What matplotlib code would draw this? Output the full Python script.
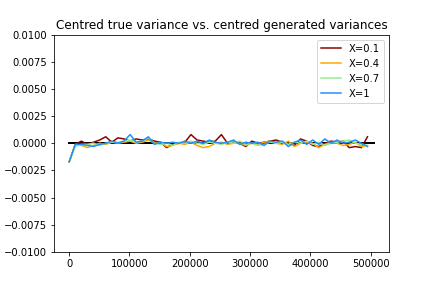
import numpy as np
import matplotlib
matplotlib.use("Agg")
import matplotlib.pyplot as plt

n_points = 50
step = 10100
x = np.arange(n_points) * step

true_x = [0, 505000]
true_var = [0.0, 0.0]

labels = ["X=0.1", "X=0.4", "X=0.7", "X=1"]
colors = ["darkred", "orange", "lightgreen", "dodgerblue"]

var_01 = [-0.0017, -0.0001, 0.0002, -0.0001, 0.0001, 0.0003, 0.0006, 0.0001, 0.0005, 0.0004,
          0.0002, 0.0004, 0.0003, 0.0004, 0.0002, 0.0001, -0.0004, -0.0001, 0.0000, 0.0001,
          0.0008, 0.0003, 0.0002, 0.0001, 0.0002, 0.0008, 0.0000, 0.0001, 0.0000, -0.0003,
          0.0002, 0.0000, 0.0001, 0.0002, 0.0003, 0.0001, 0.0000, -0.0002, 0.0004, 0.0002,
          -0.0002, -0.0003, 0.0000, 0.0002, 0.0001, 0.0002, -0.0004, -0.0003, -0.0004, 0.0006]
var_04 = [-0.0017, -0.0001, -0.0002, -0.0004, -0.0002, 0.0000, -0.0001, 0.0001, 0.0000, 0.0001,
          0.0002, 0.0000, 0.0001, 0.0003, 0.0000, 0.0001, -0.0003, -0.0002, 0.0000, -0.0001,
          0.0001, -0.0002, -0.0004, -0.0003, 0.0000, 0.0001, -0.0001, 0.0000, 0.0000, -0.0002,
          0.0000, -0.0001, 0.0001, 0.0002, 0.0000, -0.0001, 0.0002, -0.0003, 0.0000, 0.0001,
          0.0000, -0.0004, -0.0001, 0.0001, 0.0000, -0.0002, -0.0001, 0.0001, -0.0003, -0.0002]
var_07 = [-0.0017, -0.0003, -0.0001, -0.0001, 0.0000, -0.0002, 0.0000, 0.0001, 0.0001, 0.0002,
          0.0003, 0.0001, 0.0002, 0.0005, 0.0000, -0.0001, 0.0000, -0.0002, 0.0001, 0.0000,
          0.0002, 0.0000, -0.0001, 0.0001, 0.0000, -0.0001, 0.0001, 0.0000, 0.0002, -0.0001,
          0.0000, -0.0002, -0.0001, 0.0001, 0.0000, 0.0001, -0.0001, 0.0001, 0.0000, 0.0002,
          -0.0001, 0.0001, -0.0002, 0.0000, 0.0001, 0.0002, 0.0003, 0.0000, -0.0001, -0.0002]
var_1 = [-0.0017, -0.0001, -0.0001, -0.0002, -0.0003, -0.0001, 0.0000, 0.0002, 0.0000, 0.0002,
         0.0008, 0.0001, 0.0002, 0.0006, -0.0001, 0.0001, 0.0000, 0.0001, 0.0000, 0.0002,
         0.0000, 0.0002, 0.0000, 0.0003, 0.0001, 0.0000, 0.0001, 0.0003, -0.0001, 0.0001,
         0.0000, 0.0001, -0.0002, 0.0002, 0.0001, 0.0002, -0.0003, 0.0001, 0.0003, -0.0001,
         0.0003, -0.0001, 0.0004, 0.0000, 0.0003, 0.0000, 0.0001, 0.0003, 0.0000, -0.0003]

series = [var_01, var_04, var_07, var_1]

fig, ax = plt.subplots(figsize=(6, 4), dpi=72)
fig.subplots_adjust(left=0.125, right=0.9, top=0.88, bottom=0.125)

ax.plot(true_x, true_var, color="black", linewidth=2)
for vals, lab, col in zip(series, labels, colors):
    ax.plot(x, vals, color=col, label=lab, linewidth=1.5)

ax.set_ylim(-0.01, 0.01)
ax.set_yticks(np.arange(-0.01, 0.01001, 0.0025))
ax.set_title("Centred true variance vs. centred generated variances")
ax.legend(loc="upper right")

fig.savefig("out.png", dpi=72)
